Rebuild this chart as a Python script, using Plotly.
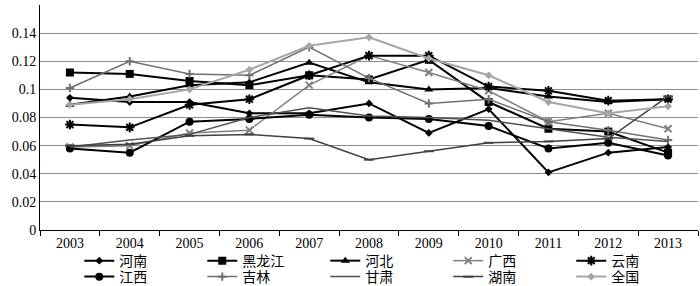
import plotly.graph_objects as go

years = ["2003", "2004", "2005", "2006", "2007", "2008", "2009", "2010", "2011", "2012", "2013"]
y_tick_vals = [0, 0.02, 0.04, 0.06, 0.08, 0.1, 0.12, 0.14, 0.16]
y_tick_text = ["0", "0.02", "0.04", "0.06", "0.08", "0.1", "0.12", "0.14", "0.16"]

henan = [0.094, 0.091, 0.091, 0.083, 0.083, 0.090, 0.069, 0.086, 0.041, 0.055, 0.059]
heilongjiang = [0.112, 0.111, 0.106, 0.103, 0.110, 0.107, 0.121, 0.091, 0.072, 0.070, 0.055]
hebei = [0.089, 0.095, 0.103, 0.105, 0.119, 0.105, 0.100, 0.101, 0.095, 0.091, 0.093]
guangxi = [0.059, 0.060, 0.069, 0.071, 0.103, 0.124, 0.112, 0.099, 0.077, 0.083, 0.072]
yunnan = [0.075, 0.073, 0.089, 0.093, 0.110, 0.124, 0.124, 0.102, 0.099, 0.092, 0.093]
jiangxi = [0.058, 0.055, 0.077, 0.079, 0.082, 0.080, 0.079, 0.074, 0.058, 0.062, 0.053]
jilin = [0.101, 0.120, 0.111, 0.110, 0.130, 0.108, 0.090, 0.093, 0.077, 0.071, 0.064]
gansu = [0.059, 0.064, 0.068, 0.080, 0.087, 0.081, 0.080, 0.078, 0.072, 0.066, 0.063]
hunan = [0.060, 0.061, 0.067, 0.068, 0.065, 0.050, 0.056, 0.062, 0.063, 0.065, 0.095]
quanguo = [0.089, 0.093, 0.100, 0.114, 0.131, 0.137, 0.122, 0.110, 0.091, 0.083, 0.088]

series = [
    ("河南", henan, "#000000", 2, "diamond", 6, "legend"),
    ("黑龙江", heilongjiang, "#000000", 2, "square", 8, "legend"),
    ("河北", hebei, "#000000", 2, "triangle-up", 8, "legend"),
    ("广西", guangxi, "#808080", 1.5, "x-thin-open", 7, "legend"),
    ("云南", yunnan, "#000000", 2, "asterisk-open", 8, "legend"),
    ("江西", jiangxi, "#000000", 2, "circle", 8, "legend2"),
    ("吉林", jilin, "#707070", 1.5, "cross-thin-open", 6, "legend2"),
    ("甘肃", gansu, "#505050", 1.5, None, 0, "legend2"),
    ("湖南", hunan, "#404040", 1.5, "line-ew-open", 7, "legend2"),
    ("全国", quanguo, "#a6a6a6", 2, "diamond", 6, "legend2"),
]

fig = go.Figure()
for name, vals, color, lw, sym, ms, lg in series:
    if sym is None:
        fig.add_trace(go.Scatter(x=years, y=vals, name=name, mode="lines", legend=lg,
                                 line=dict(color=color, width=lw)))
    else:
        fig.add_trace(go.Scatter(x=years, y=vals, name=name, mode="lines+markers", legend=lg,
                                 line=dict(color=color, width=lw),
                                 marker=dict(symbol=sym, size=ms, color=color,
                                             line=dict(color=color, width=2 if "open" in sym else 0))))

font_family = "Liberation Serif, 'Noto Sans CJK SC', serif"
legend_common = dict(orientation="h", xanchor="center", yanchor="middle",
                     entrywidth=78, entrywidthmode="pixels",
                     font=dict(size=14, family=font_family),
                     itemwidth=30, bgcolor="rgba(0,0,0,0)")
fig.update_layout(
    width=700, height=286,
    margin=dict(l=40, r=2, t=5, b=56, autoexpand=False),
    paper_bgcolor="white", plot_bgcolor="white",
    font=dict(family=font_family, size=14, color="#000000"),
    showlegend=True,
    legend=dict(legend_common, x=0.527, y=-0.138),
    legend2=dict(legend_common, x=0.527, y=-0.209),
    xaxis=dict(type="category", tickson="boundaries", ticks="outside", ticklen=5,
               tickcolor="#000000", showline=True, linecolor="#000000", linewidth=1,
               showgrid=False, tickfont=dict(size=14), range=[-0.5, 10.5]),
    yaxis=dict(range=[0, 0.16], tickvals=y_tick_vals, ticktext=y_tick_text,
               showgrid=True, gridcolor="#8c8c8c", gridwidth=1,
               showline=True, linecolor="#000000", linewidth=1,
               ticks="", zeroline=False, tickfont=dict(size=14)),
)

fig.write_html("out.html")
